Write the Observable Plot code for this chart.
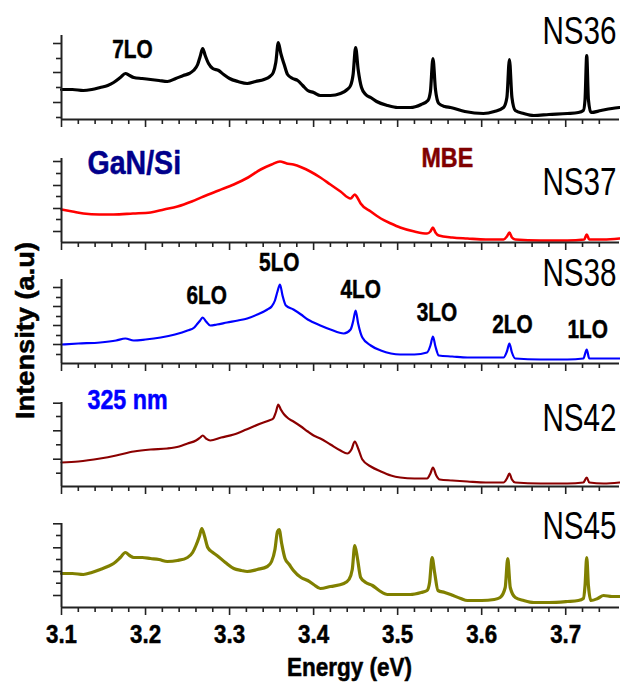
<!DOCTYPE html>
<html><head><meta charset="utf-8">
<script src="https://cdn.jsdelivr.net/npm/d3@7"></script>
<script src="https://cdn.jsdelivr.net/npm/@observablehq/plot@0.6"></script>
<style>
html,body{margin:0;padding:0;background:#fff;}
#chart{position:relative;width:620px;height:684px;overflow:hidden;}
#chart svg{position:absolute;left:0;overflow:visible;}
</style></head><body><div id="chart"></div>
<script>
// ---- data (energy in eV, intensity in a.u.) ----
const samples = ["NS36", "NS37", "NS38", "NS42", "NS45"];
const ns36 = [[3.100,30],[3.113,30],[3.126,29],[3.136,30],[3.146,32],[3.155,34],[3.162,37],[3.170,42],[3.176,46],[3.181,44],[3.186,42],[3.196,41],[3.206,40],[3.216,39],[3.226,38],[3.236,41],[3.245,44],[3.252,46],[3.257,49],[3.262,55],[3.265,63],[3.268,71],[3.271,64],[3.275,56],[3.280,51],[3.287,49],[3.293,45],[3.300,41],[3.310,38],[3.321,36],[3.331,38],[3.341,40],[3.348,43],[3.352,47],[3.355,57],[3.358,77],[3.361,66],[3.365,55],[3.369,45],[3.375,41],[3.381,39],[3.387,34],[3.393,29],[3.400,27],[3.408,24],[3.420,24],[3.432,26],[3.440,30],[3.444,34],[3.447,45],[3.450,72],[3.453,50],[3.457,32],[3.462,25],[3.468,22],[3.475,18],[3.488,14],[3.500,12],[3.515,12],[3.528,15],[3.536,19],[3.539,28],[3.542,61],[3.545,30],[3.549,16],[3.556,13],[3.563,12],[3.580,8],[3.602,6],[3.615,8],[3.626,12],[3.630,22],[3.633,60],[3.636,22],[3.640,9],[3.650,6],[3.662,4],[3.680,5],[3.702,6],[3.715,7],[3.721,9],[3.723,20],[3.725,64],[3.727,20],[3.730,7],[3.742,9],[3.755,11],[3.764,12]];
const ns37 = [[3.100,33],[3.113,31],[3.126,29],[3.145,28],[3.162,28],[3.185,29],[3.206,30],[3.222,33],[3.238,36],[3.255,41],[3.269,46],[3.287,52],[3.305,58],[3.322,65],[3.337,73],[3.350,78],[3.360,81],[3.368,79],[3.376,78],[3.386,75],[3.396,71],[3.408,65],[3.420,58],[3.432,51],[3.444,44],[3.449,48],[3.452,45],[3.456,39],[3.468,31],[3.480,24],[3.492,19],[3.503,15],[3.520,11],[3.535,9],[3.539,11],[3.542,15],[3.545,10],[3.549,7],[3.565,5],[3.583,4],[3.605,3],[3.626,3],[3.630,6],[3.633,10],[3.636,5],[3.640,3],[3.670,2],[3.702,2],[3.722,3],[3.725,8],[3.728,3],[3.745,3],[3.764,4]];
const ns38 = [[3.100,19],[3.120,20],[3.146,21],[3.165,23],[3.176,25],[3.186,23],[3.200,24],[3.218,26],[3.235,29],[3.250,33],[3.258,36],[3.262,40],[3.265,43],[3.268,46],[3.272,42],[3.277,38],[3.285,39],[3.297,41],[3.310,43],[3.321,45],[3.333,49],[3.345,54],[3.350,57],[3.354,63],[3.357,72],[3.360,79],[3.363,68],[3.367,58],[3.376,54],[3.385,49],[3.393,44],[3.400,41],[3.408,38],[3.420,34],[3.436,30],[3.444,34],[3.447,42],[3.450,53],[3.453,40],[3.458,26],[3.468,18],[3.480,13],[3.492,10],[3.503,9],[3.520,9],[3.535,11],[3.539,18],[3.542,27],[3.545,17],[3.549,8],[3.565,7],[3.583,6],[3.605,6],[3.626,6],[3.630,12],[3.633,20],[3.636,11],[3.640,5],[3.670,4],[3.702,4],[3.721,5],[3.725,14],[3.728,5],[3.745,5],[3.764,5]];
const ns42 = [[3.100,24],[3.120,25],[3.146,28],[3.165,31],[3.186,35],[3.206,37],[3.226,38],[3.240,40],[3.250,43],[3.260,46],[3.265,49],[3.268,51],[3.272,48],[3.277,46],[3.290,49],[3.305,52],[3.320,57],[3.337,63],[3.347,66],[3.352,68],[3.355,74],[3.358,82],[3.361,77],[3.365,72],[3.370,68],[3.376,65],[3.385,60],[3.393,55],[3.400,51],[3.408,48],[3.420,42],[3.432,36],[3.440,33],[3.445,37],[3.449,45],[3.453,38],[3.458,27],[3.468,20],[3.480,15],[3.492,11],[3.503,9],[3.520,8],[3.535,8],[3.539,13],[3.542,19],[3.546,11],[3.550,7],[3.565,6],[3.583,5],[3.605,4],[3.626,4],[3.630,8],[3.633,13],[3.636,7],[3.640,4],[3.670,3],[3.702,3],[3.721,4],[3.725,9],[3.728,4],[3.745,3],[3.764,4]];
const ns45 = [[3.100,34],[3.113,34],[3.126,33],[3.136,35],[3.146,38],[3.155,41],[3.162,44],[3.170,50],[3.176,55],[3.181,52],[3.186,50],[3.196,50],[3.206,49],[3.216,48],[3.226,46],[3.238,47],[3.250,50],[3.256,55],[3.260,62],[3.264,71],[3.267,79],[3.270,72],[3.274,60],[3.280,55],[3.285,52],[3.295,45],[3.305,39],[3.314,37],[3.321,36],[3.333,38],[3.345,41],[3.350,46],[3.354,58],[3.357,76],[3.359,78],[3.362,64],[3.366,49],[3.371,43],[3.376,37],[3.385,30],[3.393,27],[3.400,23],[3.408,19],[3.420,21],[3.436,24],[3.442,28],[3.446,38],[3.449,62],[3.452,50],[3.456,30],[3.462,25],[3.470,22],[3.478,17],[3.488,13],[3.500,13],[3.515,13],[3.528,15],[3.535,17],[3.538,25],[3.541,50],[3.544,35],[3.548,17],[3.556,15],[3.563,13],[3.575,9],[3.583,7],[3.600,7],[3.615,8],[3.622,10],[3.628,20],[3.631,49],[3.634,20],[3.640,10],[3.650,7],[3.662,5],[3.680,5],[3.702,6],[3.715,7],[3.721,9],[3.723,22],[3.725,50],[3.727,22],[3.730,7],[3.738,9],[3.745,12],[3.755,11],[3.764,11]];
const spectra = [ns36, ns37, ns38, ns42, ns45];
const loLabels = ["1LO", "2LO", "3LO", "4LO", "5LO", "6LO", "7LO"];
const loEnergies = [3.725, 3.633, 3.542, 3.450, 3.358, 3.268, 3.176];
const xMajorTicks = [3.1, 3.2, 3.3, 3.4, 3.5, 3.6, 3.7];
const xMinorTicks = [3.12, 3.14, 3.16, 3.18, 3.22, 3.24, 3.26, 3.28, 3.32, 3.34, 3.36, 3.38, 3.42, 3.44, 3.46, 3.48, 3.52, 3.54, 3.56, 3.58, 3.62, 3.64, 3.66, 3.68, 3.72, 3.74];
const yMajorTicks = [[76, 47, 17], [81, 57, 34, 11], [76, 57, 38, 19], [83.3, 55.7, 27.3], [83.7, 59.7, 36, 12]];
const yMinorTicks = [[61, 32, 2], [69, 46, 23], [66, 47, 28, 9], [70, 41.7, 13.3], [72, 48, 24.3]];

// ---- styling / layout ----
const colors = ["#000000", "#ff0000", "#0000ff", "#8b0000", "#808000"];
const lineWidths = [3.2, 2.6, 2.2, 2.2, 3.2];
const frameTops = [35, 158, 279, 402, 523];
const frameH = 84;
const FONT = "'Liberation Sans', Arial, Helvetica, sans-serif";
const AX = "#222";

// label placement: [panel, dx, height above axis]
const loPlace = {"1LO": [2, 1, 26], "2LO": [2, 3, 31], "3LO": [2, 4, 43], "4LO": [2, 5, 66], "5LO": [2, 1, 93], "6LO": [2, 4, 60], "7LO": [0, 7, 62]};
const sampleH = [76, 48, 78, 56, 69];

// horizontal squeeze per text string (the original lettering is narrow)
const squeezeOf = t => {
  if (samples.includes(t)) return 0.78;
  if (loLabels.includes(t)) return 0.8;
  if (t === "GaN/Si") return 0.84;
  if (t === "MBE" || t === "325 nm") return 0.83;
  if (t === "Energy (eV)") return 0.9;
  if (t === "Intensity (a.u)") return 1.09;
  if (/^3\.\d$/.test(t)) return 0.86;
  return null;
};

const chart = document.getElementById("chart");

samples.forEach((name, i) => {
  const last = i === samples.length - 1;
  const mt = 40, mb = last ? 77 : 20;
  const bold = (fill) => ({fontWeight: "bold", fontFamily: FONT, fill, stroke: fill, strokeWidth: 0.5});
  const marks = [
    Plot.line(spectra[i], {x: d => d[0], y: d => d[1], stroke: colors[i], strokeWidth: lineWidths[i], strokeLinejoin: "round", curve: "monotone-x"}),
    Plot.axisY({ticks: yMajorTicks[i], tickSize: 8, tickFormat: () => "", label: null, stroke: AX, strokeWidth: 1.6}),
    Plot.axisY({ticks: yMinorTicks[i], tickSize: 5, tickFormat: () => "", label: null, stroke: AX, strokeWidth: 1.6}),
    Plot.axisX({ticks: xMajorTicks, tickSize: 8, tickFormat: () => "", label: null, stroke: AX, strokeWidth: 1.6}),
    Plot.axisX({ticks: xMinorTicks, tickSize: 5, tickFormat: () => "", label: null, stroke: AX, strokeWidth: 1.6}),
    Plot.ruleX([3.1], {stroke: AX, strokeWidth: 2}),
    Plot.ruleY([0], {stroke: AX, strokeWidth: 2}),
    Plot.text([name], {text: d => d, frameAnchor: "bottom-right", textAnchor: "end", lineAnchor: "bottom", dx: -3, dy: -sampleH[i], fontSize: 38, fontFamily: FONT, fill: "#000"})
  ];
  loLabels.forEach((lab, k) => {
    const p = loPlace[lab];
    if (p[0] !== i) return;
    marks.push(Plot.text([lab], {x: () => loEnergies[k], text: d => d, frameAnchor: "bottom", lineAnchor: "bottom", textAnchor: "middle", dx: p[1], dy: -p[2], fontSize: 26, ...bold("#000")}));
  });
  if (i === 1) {
    marks.push(Plot.text(["GaN/Si"], {text: d => d, frameAnchor: "bottom-left", textAnchor: "start", lineAnchor: "bottom", dx: 26, dy: -69, fontSize: 34, ...bold("#00008b")}));
    marks.push(Plot.text(["MBE"], {text: d => d, frameAnchor: "bottom-left", textAnchor: "start", lineAnchor: "bottom", dx: 360, dy: -76, fontSize: 28, ...bold("#800000")}));
  }
  if (i === 2) {
    marks.push(Plot.text(["Intensity (a.u)"], {text: d => d, frameAnchor: "left", textAnchor: "middle", lineAnchor: "bottom", rotate: -90, dx: -28, dy: 9, fontSize: 25, ...bold("#000")}));
  }
  if (i === 3) {
    marks.push(Plot.text(["325 nm"], {text: d => d, frameAnchor: "bottom-left", textAnchor: "start", lineAnchor: "bottom", dx: 26, dy: -78, fontSize: 28, ...bold("#0000ff")}));
  }
  if (last) {
    marks.push(Plot.text(xMajorTicks, {x: d => d, text: d => d3.format(".1f")(d), frameAnchor: "bottom", lineAnchor: "bottom", textAnchor: "middle", dy: 35, fontSize: 26, ...bold("#000")}));
    marks.push(Plot.text(["Energy (eV)"], {text: d => d, frameAnchor: "bottom", lineAnchor: "bottom", textAnchor: "middle", dx: 9, dy: 68, fontSize: 25, ...bold("#000")}));
  }
  const svg = Plot.plot({
    width: 620,
    height: mt + frameH + mb,
    marginLeft: 61, marginRight: 1, marginTop: mt, marginBottom: mb,
    x: {domain: [3.1, 3.764]},
    y: {domain: [0, 84]},
    style: {background: "transparent", overflow: "visible", fontFamily: FONT},
    marks
  });
  svg.style.top = (frameTops[i] - mt) + "px";
  svg.querySelectorAll("text").forEach(t => {
    const s = squeezeOf(t.textContent);
    if (s == null) return;
    const tr = t.getAttribute("transform");
    if (tr) t.setAttribute("transform", tr + ` scale(${s},1)`);
  });
  chart.appendChild(svg);
});
</script></body></html>
